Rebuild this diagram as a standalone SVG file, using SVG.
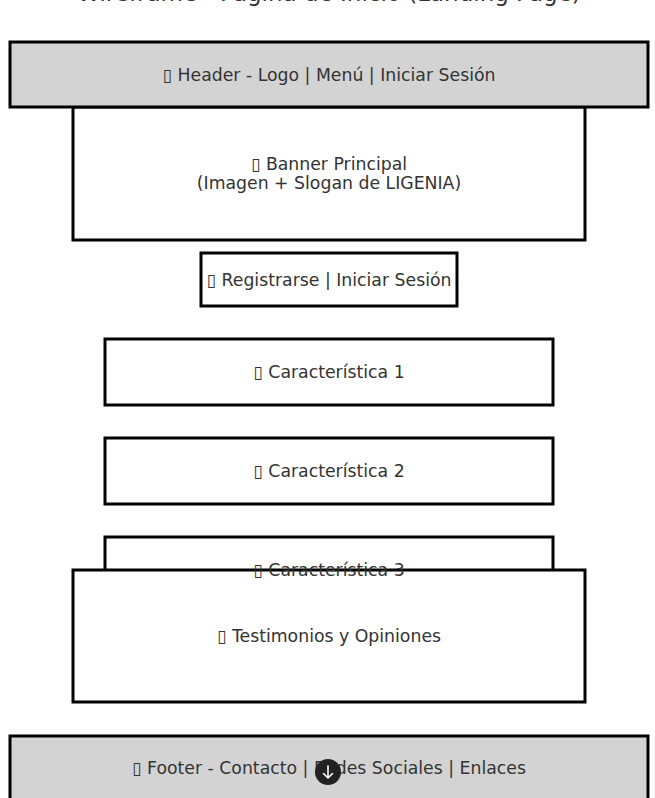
<svg xmlns="http://www.w3.org/2000/svg" width="655" height="798" viewBox="0 0 655 798">
<style>
.box{fill:#ffffff;stroke:#000000;stroke-width:3}
.band{fill:#d3d3d3;stroke:#000000;stroke-width:3}
.lbl{font-family:"DejaVu Sans","Liberation Sans",sans-serif;font-size:17.3px;fill:#333333;text-anchor:middle;dominant-baseline:central}
.title{font-family:"DejaVu Sans","Liberation Sans",sans-serif;font-size:23px;fill:#333333;text-anchor:middle}
</style>
<rect width="655" height="798" fill="#ffffff"/>
<text class="title" x="329" y="1">Wireframe - Página de Inicio (Landing Page)</text>
<g id="connectors"></g>
<g id="banner">
<rect class="box" x="73" y="107" width="512" height="133"/>
<text class="lbl" x="329" y="164">▯ Banner Principal</text>
<text class="lbl" x="329" y="183">(Imagen + Slogan de LIGENIA)</text>
</g>
<g id="header">
<rect class="band" x="10" y="42" width="638" height="65"/>
<text class="lbl" x="329" y="75">▯ Header - Logo | Menú | Iniciar Sesión</text>
</g>
<g id="registro">
<rect class="box" x="201" y="253" width="256" height="53"/>
<text class="lbl" x="329" y="280">▯ Registrarse | Iniciar Sesión</text>
</g>
<g id="caracteristica1">
<rect class="box" x="105" y="339" width="448" height="66"/>
<text class="lbl" x="329" y="372">▯ Característica 1</text>
</g>
<g id="caracteristica2">
<rect class="box" x="105" y="438" width="448" height="66"/>
<text class="lbl" x="329" y="471">▯ Característica 2</text>
</g>
<g id="testimonios">
<rect class="box" x="73" y="570" width="512" height="132"/>
<text class="lbl" x="329" y="636">▯ Testimonios y Opiniones</text>
</g>
<g id="caracteristica3">
<path d="M105,570 V537 H553 V570" fill="none" stroke="#000000" stroke-width="3"/>
<text class="lbl" x="329" y="570">▯ Característica 3</text>
</g>
<g id="footer">
<rect class="band" x="10" y="736" width="638" height="70"/>
<text class="lbl" x="329" y="768">▯ Footer - Contacto | Redes Sociales | Enlaces</text>
</g>
<g id="scroll-button">
<circle cx="328" cy="772" r="13" fill="#222222"/>
<path d="M328,766 V778 M323.5,773.5 L328,778 L332.5,773.5" fill="none" stroke="#ffffff" stroke-width="1.6" stroke-linecap="round" stroke-linejoin="round"/>
</g>
</svg>
